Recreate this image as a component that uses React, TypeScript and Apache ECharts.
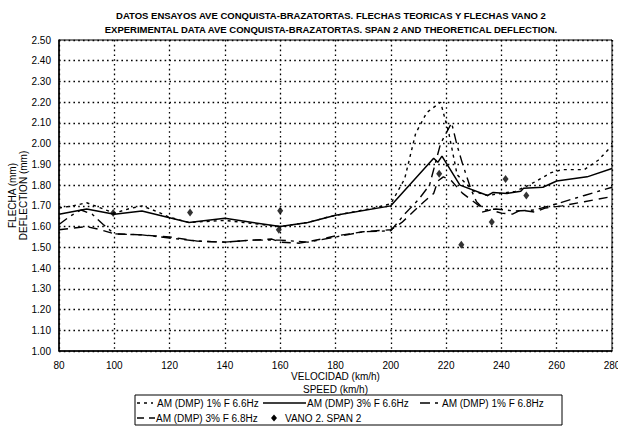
import React, { useEffect, useRef } from "react";
import * as echarts from "echarts";

// Speed (km/h) / deflection (mm) pairs for each theoretical curve
const am1pct66: [number, number][] = [
  [80, 1.69], [85, 1.70], [90, 1.715], [95, 1.69], [100, 1.665], [105, 1.685], [110, 1.70],
  [115, 1.675], [120, 1.645], [127, 1.62], [140, 1.63], [150, 1.615], [160, 1.60], [170, 1.62],
  [177, 1.645], [184, 1.665], [194, 1.69], [200, 1.71], [205, 1.83], [209, 2.05], [213, 2.15],
  [218, 2.20], [221, 2.05], [224, 1.85], [230, 1.77], [235, 1.75], [240, 1.76], [245, 1.77],
  [250, 1.80], [254, 1.83], [258, 1.86], [262, 1.875], [270, 1.875], [275, 1.92], [280, 1.99],
];

const am3pct66: [number, number][] = [
  [80, 1.66], [90, 1.685], [100, 1.66], [110, 1.675], [127, 1.62], [140, 1.64], [160, 1.60],
  [170, 1.62], [180, 1.655], [200, 1.70], [215.5, 1.93], [217, 1.91], [218.5, 1.94], [225, 1.80],
  [235, 1.75], [237, 1.765], [242, 1.76], [247, 1.77], [248, 1.785], [255, 1.79], [260, 1.82],
  [271, 1.84], [280, 1.88],
];

const am1pct68: [number, number][] = [
  [80, 1.61], [84, 1.65], [88, 1.68], [92, 1.66], [96, 1.61], [100, 1.565], [110, 1.56],
  [120, 1.545], [130, 1.53], [140, 1.525], [150, 1.535], [160, 1.535], [170, 1.525], [180, 1.55],
  [190, 1.575], [200, 1.58], [205, 1.66], [210, 1.73], [214, 1.80], [218, 2.00], [222, 2.10],
  [224, 1.99], [226, 1.90], [229, 1.78], [231, 1.72], [234, 1.68], [238, 1.685], [245, 1.675],
  [252, 1.68], [260, 1.71], [270, 1.75], [280, 1.79],
];

const am3pct68: [number, number][] = [
  [80, 1.585], [90, 1.60], [95, 1.585], [100, 1.565], [110, 1.56], [115, 1.555], [120, 1.55],
  [125, 1.54], [130, 1.53], [140, 1.525], [150, 1.535], [157, 1.54], [160, 1.525], [167, 1.52],
  [175, 1.54], [180, 1.555], [185, 1.565], [190, 1.575], [200, 1.585], [204, 1.62], [208, 1.67],
  [212, 1.72], [215.5, 1.76], [217, 1.82], [219, 1.84], [222, 1.82], [226, 1.76], [230, 1.72],
  [232, 1.70], [233, 1.67], [236, 1.68], [240, 1.665], [244, 1.66], [247, 1.68], [252, 1.67],
  [256, 1.69], [262, 1.70], [270, 1.72], [280, 1.745],
];

// Measured deflections on span 2
const vano2: [number, number][] = [
  [99.6, 1.665], [127.4, 1.668], [160, 1.676], [159.5, 1.585], [217.5, 1.855],
  [225.5, 1.512], [236.5, 1.622], [241.5, 1.83], [249, 1.75],
];

const seriesNames = [
  "AM (DMP) 1% F 6.6Hz",
  "AM (DMP) 3% F 6.6Hz",
  "AM (DMP) 1% F 6.8Hz",
  "AM (DMP) 3% F 6.8Hz",
  "VANO 2. SPAN 2",
];

const titleLines = [
  "DATOS ENSAYOS AVE CONQUISTA-BRAZATORTAS. FLECHAS TEORICAS Y FLECHAS VANO 2",
  "EXPERIMENTAL DATA AVE CONQUISTA-BRAZATORTAS. SPAN 2 AND THEORETICAL DEFLECTION.",
];

const FONT = "'Liberation Sans', Arial, sans-serif";

const dashes: (number[] | "solid")[] = [[3, 4], "solid", [10, 5, 3, 5], [9, 6]];

export default function App() {
  const ref = useRef<HTMLDivElement>(null);

  useEffect(() => {
    if (!ref.current) return;
    const chart = echarts.init(ref.current, undefined, { renderer: "svg" });

    const lineData = [am1pct66, am3pct66, am1pct68, am3pct68];
    const lineSeries = lineData.map((d, i) => ({
      name: seriesNames[i],
      type: "line",
      data: d,
      showSymbol: false,
      symbol: "none",
      lineStyle: { color: "#000", width: i === 1 ? 1.5 : 1.4, type: dashes[i] },
      z: 3,
    }));

    const legendText = (x: number, y: number, text: string) => ({
      type: "text",
      x,
      y,
      style: { text, fill: "#000", font: `10px ${FONT}`, textVerticalAlign: "middle" },
    });
    const legendLine = (x1: number, x2: number, y: number, dash: number[] | "solid") => ({
      type: "line",
      shape: { x1, y1: y, x2, y2: y },
      style: { stroke: "#000", lineWidth: 1.5, lineDash: dash === "solid" ? null : dash },
    });

    chart.setOption({
      animation: false,
      backgroundColor: "#fff",
      textStyle: { fontFamily: FONT },
      title: {
        text: titleLines.join("\n"),
        left: 331,
        textAlign: "center",
        top: 8,
        padding: 0,
        textStyle: { fontSize: 9.5, fontWeight: "bold", color: "#000", lineHeight: 14, fontFamily: FONT },
      },
      grid: {
        left: 59,
        right: 6,
        top: 40,
        bottom: 75,
        outerBoundsMode: "none",
        containLabel: false,
        show: true,
        borderColor: "#000",
        borderWidth: 1,
      },
      xAxis: {
        type: "value",
        min: 80,
        max: 280,
        interval: 20,
        name: "VELOCIDAD (km/h)\nSPEED (km/h)",
        nameLocation: "middle",
        nameMoveOverlap: false,
        nameGap: 19,
        nameTextStyle: { fontSize: 10, color: "#000", lineHeight: 13, verticalAlign: "top", fontFamily: FONT },
        axisLine: { show: true, lineStyle: { color: "#000", width: 1.5 } },
        axisTick: { show: false },
        axisLabel: { fontSize: 10, color: "#000", margin: 9, fontFamily: FONT },
        splitLine: { show: true, lineStyle: { color: "#000", type: [1.6, 3.2], width: 1.3 } },
      },
      yAxis: {
        type: "value",
        min: 1,
        max: 2.5,
        interval: 0.1,
        name: "FLECHA (mm)\nDEFLECTION (mm)",
        nameLocation: "middle",
        nameMoveOverlap: false,
        nameRotate: 90,
        nameGap: 30,
        nameTextStyle: { fontSize: 10, color: "#000", lineHeight: 11, fontFamily: FONT },
        axisLine: { show: true, lineStyle: { color: "#000", width: 1.5 } },
        axisTick: { show: false },
        axisLabel: {
          fontSize: 10,
          color: "#000",
          margin: 8,
          fontFamily: FONT,
          formatter: (v: number) => v.toFixed(2),
        },
        splitLine: { show: true, lineStyle: { color: "#000", type: [1.6, 3.2], width: 1.3 } },
      },
      series: [
        ...lineSeries,
        {
          name: seriesNames[4],
          type: "scatter",
          data: vano2,
          symbol: "diamond",
          symbolSize: [6, 8],
          itemStyle: { color: "#000" },
          z: 4,
        },
      ],
      graphic: [
        {
          type: "rect",
          shape: { x: 135, y: 395, width: 427, height: 30 },
          style: { fill: "#fff", stroke: "#000", lineWidth: 1 },
        },
        legendLine(137, 153, 403, dashes[0]),
        legendText(157, 403, seriesNames[0]),
        legendLine(263, 306, 403, dashes[1]),
        legendText(307, 403, seriesNames[1]),
        legendLine(420, 438, 403, [10, 5, 3, 5]),
        legendText(442, 403, seriesNames[2]),
        legendLine(137, 155, 418, [7, 5]),
        legendText(156, 418, seriesNames[3]),
        {
          type: "polygon",
          shape: { points: [[274, 414.5], [277, 418], [274, 421.5], [271, 418]] },
          style: { fill: "#000" },
        },
        legendText(285, 418, seriesNames[4]),
      ],
    });

    return () => chart.dispose();
  }, []);

  return (
    <div
      ref={ref}
      style={{ position: "absolute", left: 0, top: 0, width: 618, height: 426 }}
    />
  );
}
